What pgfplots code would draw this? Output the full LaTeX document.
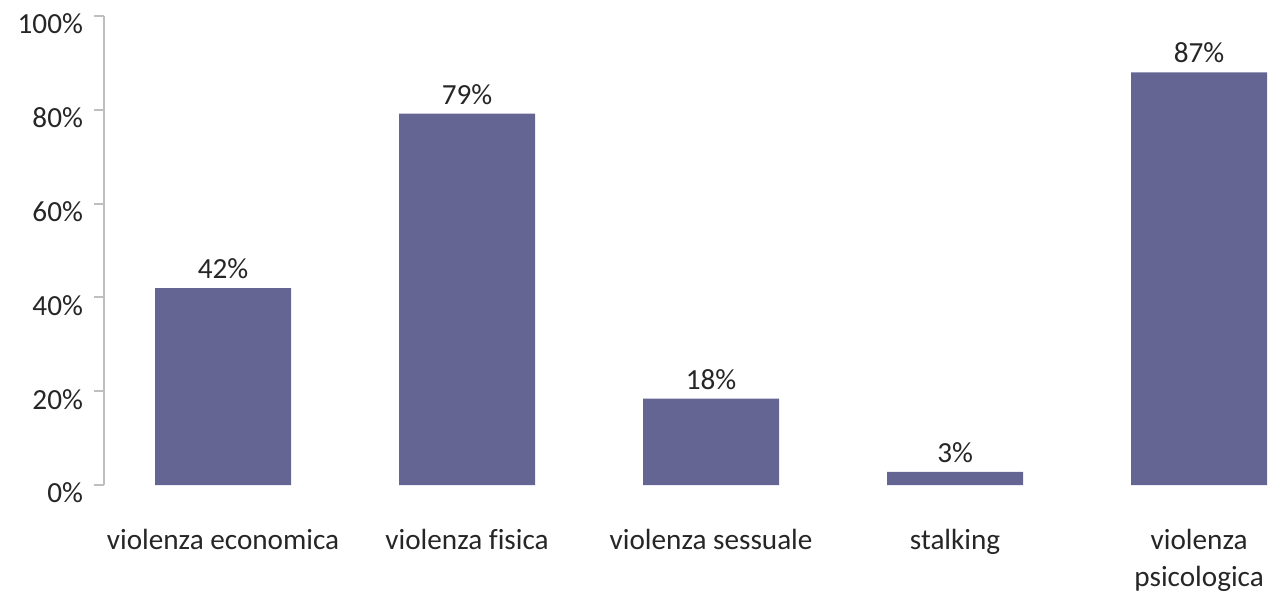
\documentclass[border=0pt]{standalone}
\usepackage{pgfplots}
\pgfplotsset{compat=1.18}
\usepackage{fontspec}
\setmainfont{Carlito}[Ligatures=NoCommon]
\definecolor{barc}{RGB}{101,101,148}
\definecolor{axc}{RGB}{190,190,190}
\definecolor{txt}{RGB}{38,38,38}
\begin{document}
\begin{tikzpicture}
\begin{axis}[
  scale only axis, width=590.5pt, height=234.5pt,
  xmin=-0.488, xmax=4.352, ymin=0, ymax=100,
  separate axis lines,
  axis x line*=bottom, axis y line*=left,
  x axis line style={draw=none},
  y axis line style={axc, line width=1pt},
  xtick={0,1,2,3,4},
  xticklabels={violenza economica, violenza fisica, violenza sessuale, stalking, {violenza\\psicologica}},
  x tick style={draw=none},
  xticklabel style={align=center, anchor=north, font=\fontsize{14.6}{18.5}\selectfont, text=txt, yshift=-13.5pt},
  ytick={0,20,40,60,80,100},
  yticklabel={\pgfmathprintnumber{\tick}\%},
  yticklabel style={font=\fontsize{14.6}{17}\selectfont, text=txt, yshift=-4pt, xshift=-2pt},
  y tick style={axc, line width=1pt},
  tick align=outside, major tick length=5pt,
  /pgf/number format/assume math mode=true,
  ybar, bar width=68pt,
  nodes near coords={\pgfmathprintnumber{\pgfplotspointmeta}\%},
  nodes near coords style={font=\fontsize{14.6}{17}\selectfont, text=txt, anchor=south, yshift=1pt},
  point meta=explicit,
  clip=false,
]
\addplot[fill=barc, draw=none, bar shift=0pt] table[x=x, y=y, meta=pct] {
x y pct
0 42 42
1 79.2 79
2 18.4 18
3 2.8 3
4 88 87
};
\end{axis}
\pgfresetboundingbox
\path (-52pt,-53pt) rectangle (590.5pt,242.5pt);
\end{tikzpicture}
\end{document}
